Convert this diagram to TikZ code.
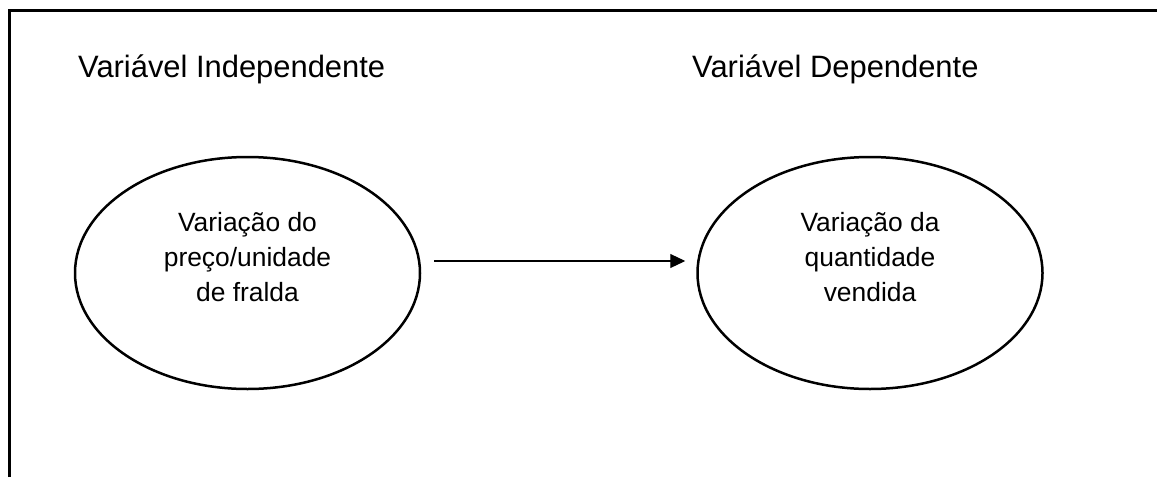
\documentclass[tikz,border=0pt]{standalone}
\usepackage{fontspec}
\setmainfont{Liberation Sans}
\usetikzlibrary{shapes.geometric,arrows.meta}
\tikzset{
  frame/.style={line width=3pt, line join=miter},
  ell/.style={ellipse, draw, line width=2.5pt, minimum width=345pt, minimum height=232pt, inner sep=0pt},
  title/.style={anchor=base west, inner sep=0pt, font=\fontsize{30.9}{37}\selectfont},
  inner/.style={align=center, inner sep=0pt, font=\fontsize{26.4}{35}\selectfont},
  conn/.style={line width=1.1pt, -{Triangle[length=15pt,width=14pt]}}
}
\begin{document}
\begin{tikzpicture}[x=1pt,y=-1pt]
\useasboundingbox (0,0) rectangle (1157,477);
\coordinate (fb) at (9,477);
\coordinate (fc) at (9,10);
\coordinate (fr) at (1157,10);
\draw[frame] (fb) -- (fc) -- (fr);
\node[title] (t1) at (78,77) {Variável Independente};
\node[title] (t2) at (692,77) {Variável Dependente};
\node[ell] (a) at (247.5,273) {};
\node[ell] (b) at (870,273) {};
\node[inner] (at) at ([yshift=16pt]a.center) {Variação do\\preço/unidade\\de fralda};
\node[inner] (bt) at ([yshift=16pt]b.center) {Variação da\\quantidade\\vendida};
\draw[conn] ([xshift=13pt,yshift=12pt]a.east) -- ([xshift=-11pt,yshift=12pt]b.west);
\end{tikzpicture}
\end{document}
